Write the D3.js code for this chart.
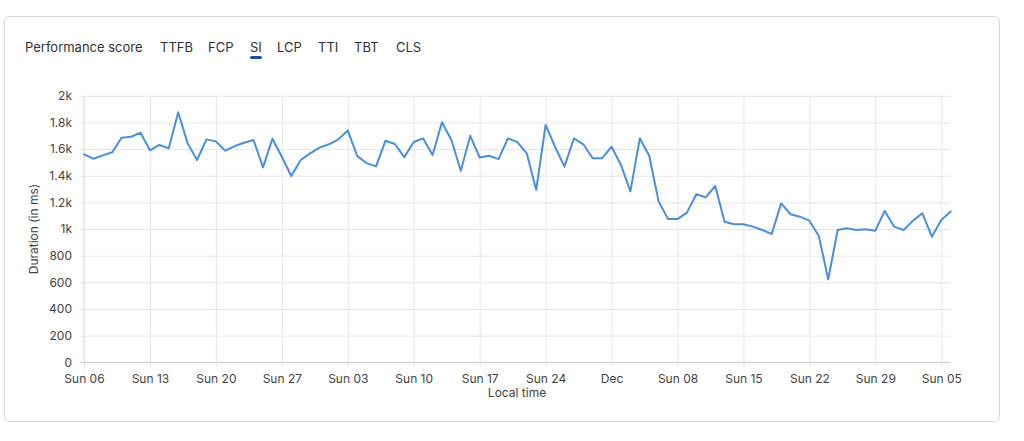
<!DOCTYPE html>
<html>
<head>
<meta charset="utf-8">
<script src="https://cdn.jsdelivr.net/npm/d3@7"></script>
<style>
  html, body { margin: 0; padding: 0; background: #fff; }
  body { width: 1024px; height: 441px; overflow: hidden; font-family: Inter, "Noto Sans", sans-serif; }
  svg { display: block; }
</style>
</head>
<body>
<svg id="chart" width="1024" height="441"></svg>
<script>
// ---- data ----
const tabs = ["Performance score", "TTFB", "FCP", "SI", "LCP", "TTI", "TBT", "CLS"];
const activeTab = "SI";
const startDate = "2024-10-06";
const endDate = "2025-01-06";
const siValues = [
  1561, 1528, 1553, 1576, 1686, 1693, 1723, 1591, 1631, 1606,
  1876, 1643, 1518, 1673, 1658, 1588, 1623, 1648, 1668, 1463,
  1678, 1543, 1398, 1518, 1568, 1611, 1636, 1673, 1740, 1548,
  1495, 1470, 1663, 1638, 1540, 1653, 1680, 1555, 1801, 1668,
  1437, 1700, 1537, 1550, 1525, 1680, 1653, 1568, 1293, 1781,
  1618, 1468, 1681, 1636, 1531, 1531, 1618, 1481, 1283, 1681,
  1550, 1206, 1075, 1075, 1123, 1261, 1238, 1323, 1055, 1036,
  1036, 1018, 993, 963, 1193, 1111, 1093, 1063, 948, 623,
  993, 1006, 993, 998, 988, 1136, 1018, 993, 1063, 1118,
  943, 1068, 1131
];
const xTickDates = ["2024-10-06","2024-10-13","2024-10-20","2024-10-27","2024-11-03","2024-11-10","2024-11-17","2024-11-24","2024-12-01","2024-12-08","2024-12-15","2024-12-22","2024-12-29","2025-01-05"];
const xTickLabels = ["Sun 06","Sun 13","Sun 20","Sun 27","Sun 03","Sun 10","Sun 17","Sun 24","Dec","Sun 08","Sun 15","Sun 22","Sun 29","Sun 05"];
const yTickValues = [0, 200, 400, 600, 800, 1000, 1200, 1400, 1600, 1800, 2000];
const yTickLabels = ["0","200","400","600","800","1k","1.2k","1.4k","1.6k","1.8k","2k"];
const yTitle = "Duration (in ms)";
const xTitle = "Local time";

// ---- build ----
const parse = d3.utcParse("%Y-%m-%d");
const t0 = parse(startDate);
const series = siValues.map((v, i) => ({ date: d3.utcDay.offset(t0, i), value: v }));

const svg = d3.select("#chart");

// card
svg.append("rect")
  .attr("x", 4.5).attr("y", 16.5).attr("width", 995).attr("height", 405)
  .attr("rx", 5).attr("ry", 5)
  .attr("fill", "#fff").attr("stroke", "#d6d6d6").attr("stroke-width", 1);

// tabs
const tabX = [25, 160, 208, 250, 277, 318, 354, 396];
const tabG = svg.append("g");
tabs.forEach((t, i) => {
  const txt = tabG.append("text")
    .attr("x", tabX[i]).attr("y", 52)
    .attr("font-size", 13).attr("fill", "#333")
    .text(t);
  if (t === activeTab) {
    const w = txt.node().getComputedTextLength();
    tabG.append("rect")
      .attr("x", tabX[i]).attr("y", 56).attr("width", Math.max(w, 12)).attr("height", 3)
      .attr("rx", 1.5)
      .attr("fill", "#1f4e9e");
  }
});

const L = 84, R = 950.7, T = 95.8, B = 362.3;
const x = d3.scaleUtc().domain([parse(startDate), parse(endDate)]).range([L, R]);
const y = d3.scaleLinear().domain([0, 2000]).range([B, T]);

// horizontal grid + y axis
const yAxis = d3.axisLeft(y)
  .tickValues(yTickValues)
  .tickFormat((d, i) => yTickLabels[i])
  .tickSize(-(R - L) - 4)
  .tickPadding(8);
const yg = svg.append("g").attr("transform", `translate(${L - 4},0)`).call(yAxis);
yg.select(".domain").remove();
yg.selectAll(".tick line").attr("stroke", "#e6e6e6");
yg.selectAll(".tick text").attr("font-size", 12).attr("fill", "#444")
  .attr("font-family", "Inter, 'Noto Sans', sans-serif");

// vertical grid + x axis
const xAxis = d3.axisBottom(x)
  .tickValues(xTickDates.map(parse))
  .tickFormat((d, i) => xTickLabels[i])
  .tickSize(-(B - T))
  .tickPadding(12);
const xg = svg.append("g").attr("transform", `translate(0,${B})`).call(xAxis);
xg.select(".domain").remove();
xg.selectAll(".tick line").attr("stroke", "#e6e6e6").attr("y2", 5).attr("y1", -(B - T));
xg.selectAll(".tick text").attr("font-size", 12).attr("fill", "#444")
  .attr("font-family", "Inter, 'Noto Sans', sans-serif");

// left boundary and baseline
svg.append("line").attr("x1", L).attr("x2", L).attr("y1", T).attr("y2", B)
  .attr("stroke", "#e0e0e0");
svg.append("line").attr("x1", L - 4).attr("x2", R).attr("y1", B).attr("y2", B)
  .attr("stroke", "#cfcfcf");

// line
const line = d3.line().x(d => x(d.date)).y(d => y(d.value));
svg.append("path").datum(series)
  .attr("d", line)
  .attr("fill", "none")
  .attr("stroke", "#4a8fdf")
  .attr("stroke-width", 2)
  .attr("stroke-linejoin", "round")
  .attr("stroke-linecap", "round");

// axis titles
svg.append("text")
  .attr("transform", `translate(38,${(T + B) / 2}) rotate(-90)`)
  .attr("text-anchor", "middle")
  .attr("font-size", 12).attr("fill", "#444")
  .text(yTitle);
svg.append("text")
  .attr("x", 517).attr("y", 397)
  .attr("text-anchor", "middle")
  .attr("font-size", 12).attr("fill", "#444")
  .text(xTitle);
</script>
</body>
</html>
